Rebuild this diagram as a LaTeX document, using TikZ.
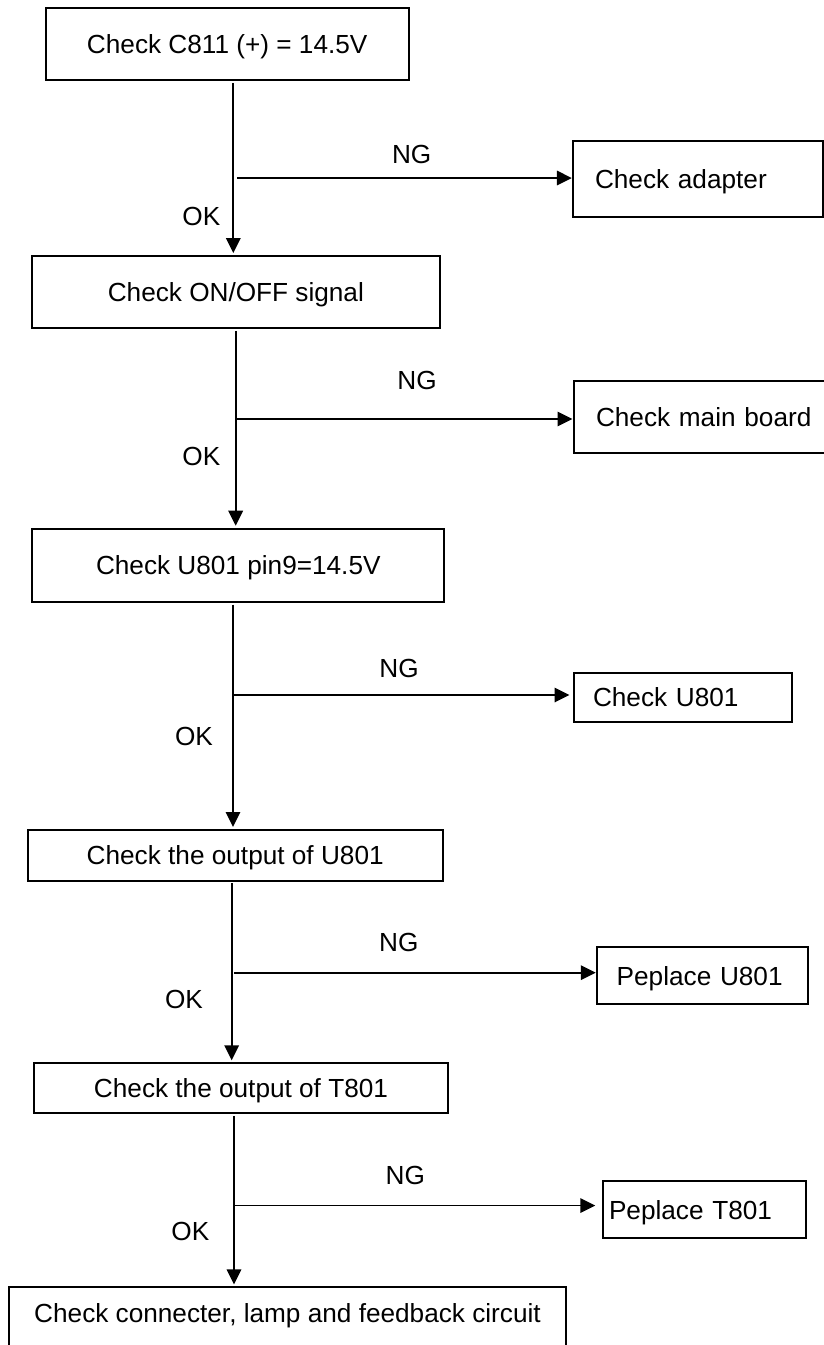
\documentclass[tikz,border=0pt]{standalone}
\usepackage{fontspec}
\setmainfont{Liberation Sans}
\usetikzlibrary{arrows.meta}
\begin{document}
\begin{tikzpicture}[x=0.2mm, y=-0.2mm, font=\fontsize{14.9}{17}\selectfont, >={Triangle[length=3mm,width=2.9mm]},
		box/.style={draw, line width=1pt, inner sep=0pt, outer sep=0pt, text depth=0pt},
		sidebox/.style={box, anchor=west, align=left},
		down/.style={line width=1pt, ->, shorten <=0.5mm, shorten >=0.6mm},
		ng/.style={line width=1pt, ->, shorten >=0.3mm}]
	\useasboundingbox (0,0) rectangle (824,1345);
	\clip (0,0) rectangle (824,1345);
	% the checks down the left
	\node[box, minimum width=72.6mm, minimum height=14.4mm] (c811) at (227.2,44.3) {Check C811 (+) = 14.5V};
	\node[box, minimum width=81.66mm, minimum height=14.46mm] (onoff) at (235.85,292.15) {Check ON/OFF signal};
	\node[box, minimum width=82.4mm, minimum height=14.66mm] (pin9) at (238.3,565.35) {Check U801 pin9=14.5V};
	\node[box, minimum width=83mm, minimum height=10.14mm] (outU) at (235.2,855.35) {Check the output of U801};
	\node[box, minimum width=82.92mm, minimum height=10mm] (outT) at (241,1088.3) {Check the output of T801};
	\node[box, anchor=north, minimum width=111.4mm, inner ysep=3.32mm, text depth=20mm] (last) at (287.5,1287.3) {Check connecter, lamp and feedback circuit};
	% what to do on NG
	\node[sidebox, inner xsep=4.34mm, text width=41.32mm, minimum height=15.32mm] (adapter) at (573.3,179) {Check adapter};
	\node[sidebox, inner xsep=4.4mm, text width=41.4mm, minimum height=14.4mm] (board) at (574,416.7) {\mbox{Check main board}};
	\node[sidebox, inner xsep=3.8mm, text width=35.94mm, minimum height=9.68mm] (chkU) at (574,697.5) {Check U801};
	\node[sidebox, inner xsep=3.88mm, text width=34.32mm, minimum height=11.4mm] (repU) at (597.3,975.8) {Peplace U801};
	\node[sidebox, inner xsep=1.14mm, text width=38.26mm, minimum height=11.52mm] (repT) at (603.3,1209.5) {Peplace T801};
	% branch points
	\coordinate (j1) at (233.3,178);
	\coordinate (j2) at (235.7,419);
	\coordinate (j3) at (233,695);
	\coordinate (j4) at (231.7,972.7);
	\coordinate (j5) at (234,1205.5);
	\draw[down] (j1 |- c811.south) -- (j1 |- onoff.north);
	\draw[down] (j2 |- onoff.south) -- (j2 |- pin9.north);
	\draw[down] (j3 |- pin9.south) -- (j3 |- outU.north);
	\draw[down] (j4 |- outU.south) -- (j4 |- outT.north);
	\draw[down] (j5 |- outT.south) -- (j5 |- last.north);
	\draw[ng, shorten <=0.8mm] (j1) -- (j1 -| adapter.west);
	\draw[ng] (j2) -- (j2 -| board.west);
	\draw[ng, shorten >=0.9mm] (j3) -- (j3 -| chkU.west);
	\draw[ng, shorten <=0.5mm] (j4) -- (j4 -| repU.west);
	\draw[ng, shorten >=1.6mm] (j5) -- (j5 -| repT.west);
	\foreach \i/\x/\y in {1/411.7/154, 2/417/380.7, 3/399/668.8, 4/398.8/942.5, 5/405.3/1175.5}
		\node (ng\i) at (\x,\y) {NG};
	\foreach \i/\x/\y in {1/201.3/216.7, 2/201.3/456.7, 3/194/736.7, 4/184/999, 5/190.3/1231}
		\node (ok\i) at (\x,\y) {OK};
\end{tikzpicture}
\end{document}
